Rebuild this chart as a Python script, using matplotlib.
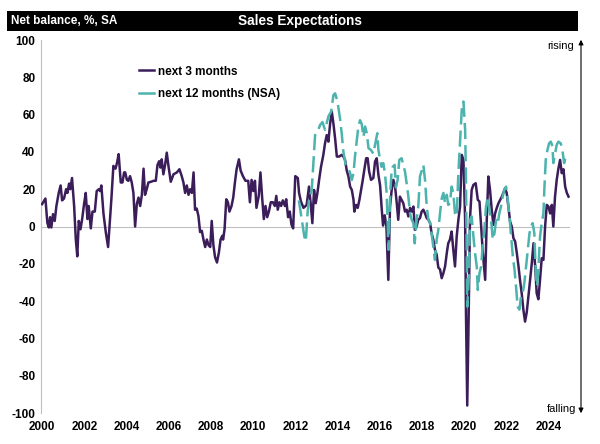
import matplotlib
matplotlib.use("Agg")
import matplotlib.pyplot as plt
from matplotlib.lines import Line2D

plt.rcParams['font.family'] = ['Liberation Sans', 'DejaVu Sans']

title = "Sales Expectations"
ylabel_text = "Net balance, %, SA"
series_names = ["next 3 months", "next 12 months (NSA)"]
x_ticks = [2000, 2002, 2004, 2006, 2008, 2010, 2012, 2014, 2016, 2018, 2020, 2022, 2024]
y_ticks = [-100, -80, -60, -40, -20, 0, 20, 40, 60, 80, 100]

# next 3 months (decimal year, net balance)
m3_dates = [2000.00, 2000.16, 2000.25, 2000.32, 2000.38, 2000.44, 2000.52, 2000.60, 2000.68, 2000.79,
            2000.88, 2000.95, 2001.04, 2001.14, 2001.20, 2001.28, 2001.34, 2001.42, 2001.52, 2001.60,
            2001.67, 2001.74, 2001.82, 2001.90, 2001.99, 2002.07, 2002.15, 2002.21, 2002.31, 2002.39,
            2002.50, 2002.59, 2002.69, 2002.75, 2002.81, 2002.91, 2003.02, 2003.13, 2003.21, 2003.29,
            2003.38, 2003.48, 2003.55, 2003.63, 2003.73, 2003.81, 2003.89, 2003.94, 2004.02, 2004.09,
            2004.17, 2004.25, 2004.33, 2004.41, 2004.49, 2004.57, 2004.65, 2004.73, 2004.81, 2004.88,
            2004.96, 2005.04, 2005.17, 2005.28, 2005.39, 2005.47, 2005.55, 2005.61, 2005.67, 2005.75,
            2005.83, 2005.91, 2005.99, 2006.10, 2006.23, 2006.39, 2006.51, 2006.62, 2006.70, 2006.78,
            2006.86, 2006.94, 2007.02, 2007.10, 2007.18, 2007.25, 2007.33, 2007.41, 2007.49, 2007.57,
            2007.65, 2007.73, 2007.81, 2007.89, 2007.97, 2008.04, 2008.12, 2008.20, 2008.29, 2008.38,
            2008.46, 2008.54, 2008.58, 2008.65, 2008.73, 2008.81, 2008.88, 2008.98, 2009.06, 2009.14,
            2009.22, 2009.33, 2009.41, 2009.52, 2009.64, 2009.77, 2009.85, 2009.93, 2010.01, 2010.09,
            2010.16, 2010.27, 2010.35, 2010.43, 2010.51, 2010.59, 2010.67, 2010.75, 2010.84, 2010.94,
            2011.03, 2011.10, 2011.17, 2011.25, 2011.33, 2011.41, 2011.51, 2011.57, 2011.66, 2011.74,
            2011.82, 2011.90, 2012.00, 2012.12, 2012.18, 2012.27, 2012.39, 2012.46, 2012.54, 2012.65,
            2012.73, 2012.81, 2012.89, 2012.97, 2013.05, 2013.13, 2013.22, 2013.33, 2013.41, 2013.49,
            2013.57, 2013.65, 2013.73, 2013.81, 2013.89, 2013.97, 2014.08, 2014.20, 2014.28, 2014.36,
            2014.44, 2014.52, 2014.60, 2014.68, 2014.76, 2014.80, 2014.88, 2014.96, 2015.04, 2015.12,
            2015.20, 2015.28, 2015.36, 2015.43, 2015.50, 2015.59, 2015.70, 2015.78, 2015.86, 2015.94,
            2016.02, 2016.10, 2016.16, 2016.24, 2016.32, 2016.41, 2016.49, 2016.57, 2016.65, 2016.73,
            2016.81, 2016.88, 2016.96, 2017.04, 2017.12, 2017.20, 2017.28, 2017.36, 2017.44, 2017.52,
            2017.60, 2017.67, 2017.75, 2017.83, 2017.91, 2017.99, 2018.07, 2018.15, 2018.23, 2018.31,
            2018.39, 2018.46, 2018.54, 2018.62, 2018.70, 2018.78, 2018.86, 2018.94, 2019.02, 2019.10,
            2019.18, 2019.25, 2019.33, 2019.41, 2019.49, 2019.57, 2019.65, 2019.73, 2019.81, 2019.89,
            2019.97, 2020.05, 2020.09, 2020.15, 2020.22, 2020.28, 2020.36, 2020.44, 2020.55, 2020.65,
            2020.73, 2020.81, 2020.89, 2021.00, 2021.07, 2021.15, 2021.23, 2021.31, 2021.39, 2021.47,
            2021.55, 2021.63, 2021.71, 2021.79, 2021.86, 2021.94, 2022.02, 2022.10, 2022.18, 2022.26,
            2022.34, 2022.42, 2022.50, 2022.58, 2022.65, 2022.73, 2022.81, 2022.89, 2022.97, 2023.05,
            2023.13, 2023.21, 2023.29, 2023.37, 2023.44, 2023.52, 2023.60, 2023.68, 2023.76, 2023.84,
            2023.92, 2024.00, 2024.08, 2024.16, 2024.23, 2024.31, 2024.39, 2024.47, 2024.55, 2024.63,
            2024.71, 2024.79, 2024.87, 2024.95]
m3_values = [12, 15, 2, -0.5, 5, -0.5, 6.6, 3, 11, 18,
             22, 14, 15, 20, 18, 23, 20, 26, 11, -7,
             -16, 3, -1.5, 4, 12, 18, 4, 11, -1, 8,
             8, 19, 20, 19, 22, 7, -3, -11, 2, 15.5,
             32.5, 31, 34, 38.8, 23.6, 23.6, 29, 29, 25, 24.5,
             27, 23.6, 18, 0, 12, 15.5, 11, 17, 31, 17,
             20, 23.6, 24, 24.5, 24.5, 33, 35, 31.6, 36, 28,
             33, 39.6, 32.5, 24, 28, 29, 30.7, 27, 23.6, 18,
             22, 17, 20, 18, 29, 9, 9.6, 5.7, -3, -2.3,
             -7, -11, -7, -10, -11, 3, -10, -16.5, -19.3, -14,
             -7, -5, -7, -1.4, 14.6, 13, 8, 11, 15.5, 23.6,
             30.7, 36, 30, 27, 24.5, 24.5, 13, 25, 19, 24.5,
             10, 16.4, 29, 15.5, 4, 11, 5, 8, 13, 13,
             11, 16.4, 9, 13, 11, 14, 11, 14.6, 5, 8,
             1, -1, 27, 26, 18, 13.4, 10, 10.7, 11.6, 21.4,
             12.5, 1.8, 19.6, 12.5, 18, 25, 32, 38.4, 44.6, 49,
             45.5, 55, 61.6, 55, 47, 37.5, 37.5, 38.4, 37.5, 35.7,
             30, 26.8, 21.4, 19.6, 14.3, 8, 11.6, 10, 14.3, 19.6,
             25, 31, 36.6, 36.6, 29.5, 25, 26, 34.8, 36.6, 27.7,
             22, 9, 0.5, 6, 0, -28.6, 10.7, 19.6, 25, 21.4,
             12.5, 3.6, 16, 14.3, 12.5, 8, 9, 5.4, 10, 8,
             10.7, -1.8, 0, 3.6, 4.5, 8, 9, 7, 4.5, 3.6,
             1.8, -3.6, -7, -12.5, -15, -22, -23, -27.7, -25, -21.4,
             -14.3, -9, -7, -2.7, -12.5, -21.4, -5.4, 3.6, 10.7, 38.4,
             35.7, 3.6, -46, -96, -46, 4, 19.6, 22.3, 23.2, 14.3,
             13.4, 0, -14.3, -28.6, 1.8, 26.8, 19.6, 9, 0.9, 7,
             10, 12.5, 14.3, 16, 18, 20.5, 18, 10.7, 2.7, 0,
             -6.3, -8, -14.3, -21.4, -28.6, -35.7, -44.6, -51, -46, -37.5,
             -28.6, -19.6, -9, -21.4, -35.7, -39, -28.6, -17, -17.9, 0,
             11.6, 10.7, 7, 11.6, 0, 16, 25, 31, 35.7, 28.6,
             30.7, 21.4, 18, 16]

# next 12 months (NSA)
m12_dates = [2012.17, 2012.31, 2012.43, 2012.50, 2012.58, 2012.65, 2012.78, 2012.86, 2012.94, 2013.06,
             2013.18, 2013.29, 2013.41, 2013.57, 2013.70, 2013.81, 2013.89, 2014.00, 2014.12, 2014.20,
             2014.28, 2014.39, 2014.52, 2014.60, 2014.68, 2014.76, 2014.83, 2014.91, 2014.99, 2015.07,
             2015.15, 2015.23, 2015.31, 2015.39, 2015.47, 2015.59, 2015.70, 2015.78, 2015.89, 2015.94,
             2016.02, 2016.09, 2016.17, 2016.25, 2016.33, 2016.42, 2016.47, 2016.51, 2016.56, 2016.62,
             2016.71, 2016.77, 2016.85, 2016.93, 2017.04, 2017.12, 2017.20, 2017.28, 2017.36, 2017.44,
             2017.52, 2017.60, 2017.66, 2017.75, 2017.83, 2017.91, 2017.99, 2018.07, 2018.15, 2018.23,
             2018.31, 2018.39, 2018.46, 2018.54, 2018.62, 2018.70, 2018.78, 2018.86, 2018.94, 2019.02,
             2019.10, 2019.18, 2019.25, 2019.33, 2019.41, 2019.49, 2019.57, 2019.65, 2019.73, 2019.81,
             2019.89, 2019.97, 2020.05, 2020.09, 2020.15, 2020.22, 2020.28, 2020.36, 2020.44, 2020.52,
             2020.60, 2020.65, 2020.73, 2020.81, 2020.88, 2020.96, 2021.04, 2021.12, 2021.20, 2021.28,
             2021.36, 2021.44, 2021.52, 2021.60, 2021.67, 2021.75, 2021.83, 2021.91, 2021.99, 2022.07,
             2022.15, 2022.23, 2022.31, 2022.39, 2022.46, 2022.54, 2022.62, 2022.70, 2022.78, 2022.86,
             2022.94, 2023.02, 2023.10, 2023.17, 2023.25, 2023.33, 2023.40, 2023.46, 2023.52, 2023.60,
             2023.68, 2023.76, 2023.81, 2023.87, 2023.95, 2024.03, 2024.11, 2024.19, 2024.23, 2024.31,
             2024.39, 2024.47, 2024.58, 2024.66, 2024.74, 2024.82, 2024.90]
m12_values = [14, 3.6, -5.4, -8, 7, 14.3, 19.6, 34, 49, 51,
              54.5, 56, 51.8, 59, 61.6, 70.5, 71.4, 67, 58, 50,
              40, 33, 31, 28.6, 25, 28.6, 37.5, 45.5, 53.6, 57,
              55, 48, 53.6, 50, 42, 41, 39, 43.8, 50, 41,
              36, 32, 34, 28.6, 18, -12.5, 7, 19.6, 28.6, 32,
              33, 21, 25, 35.7, 36.6, 33, 29.5, 23, 16, 7,
              3.6, 1.8, -9, 3.6, 10.7, 26.8, 30, 33, 25, 10.7,
              3.6, 1.8, -3.6, -10.7, -17.9, -7, -1.8, 7, 15, 18,
              12.5, 17, 11.6, 12.5, 21.4, 18, 7, 5.4, 28.6, 46,
              62.5, 67, 51.8, 25, -43, -28.6, 3.6, 5.4, -5, -14.3,
              -21.4, -34, -25, -21.4, -10.7, -1.8, 10.7, 16, 9, 3.6,
              -7, -3.6, 3.6, 1.8, 7, 10.7, 16, 19.6, 21.4, 14.3,
              5.4, -5.4, -16, -23, -32, -43, -44.6, -37.5, -35.7, -30,
              -21.4, -12.5, -3.6, 0, 1.8, -3.6, -25, -32, -23, -5.4,
              1.8, 7, 21.4, 35.7, 41, 44.6, 45.5, 43, 34, 39,
              43.8, 45.5, 44.6, 41, 34, 37.5, 37.5]

purple = "#3b1d5a"
teal = "#4db3ad"

fig = plt.figure(figsize=(6.0, 4.44), dpi=100)
ax = fig.add_axes([41/600, 1 - 413/444, (570-41)/600, (413-40)/444])

ax.plot(m3_dates, m3_values, color=purple, lw=1.8, solid_joinstyle='round', label=series_names[0], zorder=3)
ln12, = ax.plot(m12_dates, m12_values, color=teal, lw=1.8, label=series_names[1], zorder=4)
ln12.set_dashes([6.5, 2.4])

ax.axhline(0, color="#c0c0c0", lw=0.8, zorder=1)
ax.set_xlim(1999.95, 2025.02)
ax.set_ylim(-100, 100)
ax.set_xticks(x_ticks)
ax.set_yticks(y_ticks)
ax.set_xticklabels([str(t) for t in x_ticks], fontsize=8.5, fontweight='bold')
ax.set_yticklabels([str(t) for t in y_ticks], fontsize=8.5, fontweight='bold')
ax.tick_params(axis='both', length=0, pad=4)
ax.tick_params(axis='x', pad=6)
for s in ['top', 'right', 'bottom']:
    ax.spines[s].set_visible(False)
ax.spines['left'].set_color("#bfbfbf")
ax.spines['left'].set_linewidth(0.8)

handles = [Line2D([], [], color=purple, lw=1.8), Line2D([], [], color=teal, lw=1.8)]
leg = ax.legend(handles, series_names, loc='upper left', bbox_to_anchor=(0.165, 0.96),
                frameon=False, fontsize=8.5, handlelength=1.3, handletextpad=0.3, labelspacing=0.9)
for t in leg.get_texts():
    t.set_fontweight('bold')

# header bar
fig.patches.append(plt.Rectangle((7/600, 1 - 31/444), (578-7)/600, 20/444, transform=fig.transFigure,
                                 facecolor='black', edgecolor='none', zorder=0))
fig.text(11/600, 1 - 21/444, ylabel_text, color='white', fontsize=8.5, fontweight='bold',
         va='center', ha='left')
fig.text(300/600, 1 - 21/444, title, color='white', fontsize=9.8, fontweight='bold',
         va='center', ha='center')

# rising / falling arrow
fig.add_artist(matplotlib.patches.FancyArrowPatch((581/600, 1 - 416/444), (581/600, 1 - 37/444),
               transform=fig.transFigure, arrowstyle='<|-|>', mutation_scale=7, color='black', lw=0.8))
fig.text(574/600, 1 - 46/444, "rising", fontsize=8, ha='right', va='center')
fig.text(576/600, 1 - 409/444, "falling", fontsize=8, ha='right', va='center')

fig.savefig("out.png", dpi=100)
